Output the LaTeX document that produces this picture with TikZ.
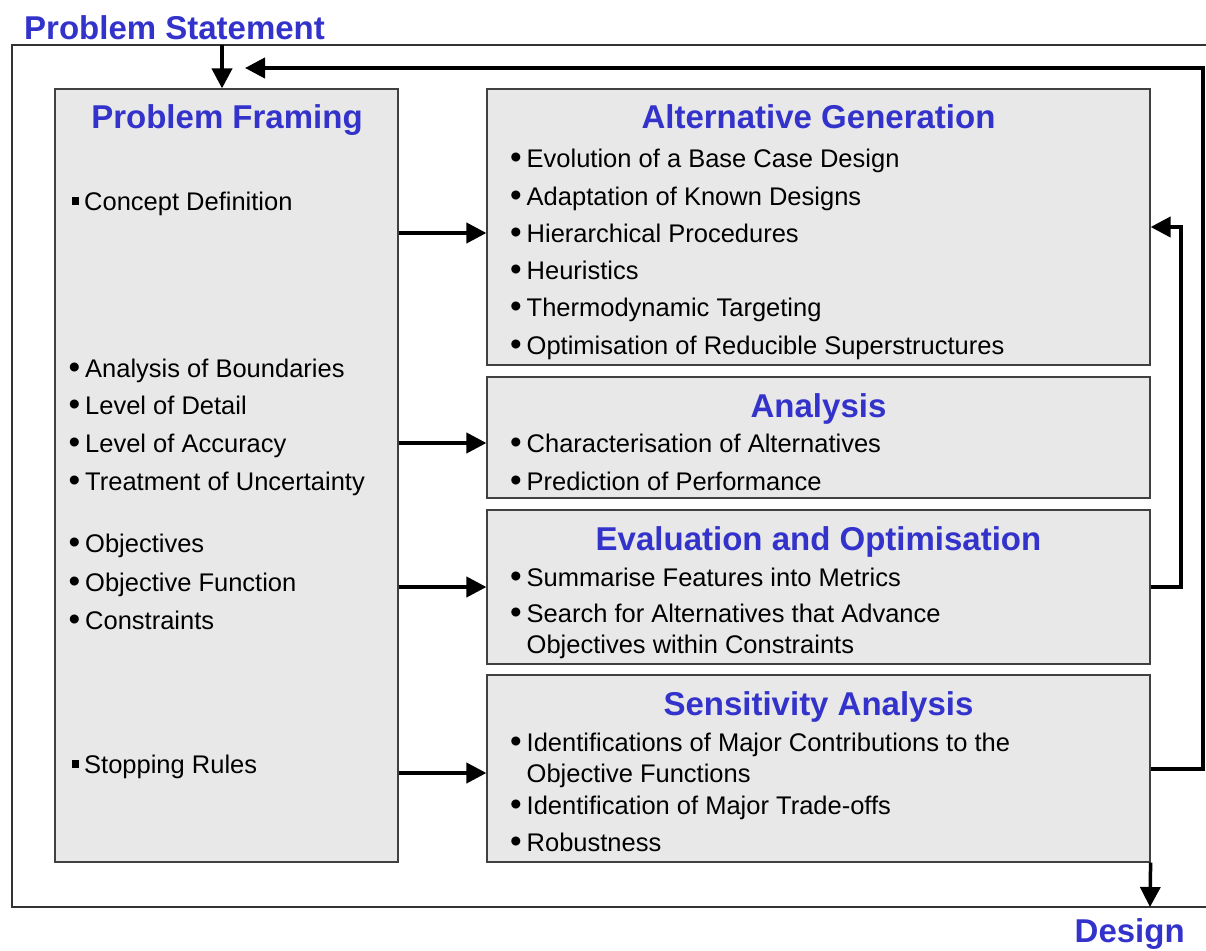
\documentclass[tikz,border=0pt]{standalone}
\usepackage{fontspec}
\usepackage{graphicx}
\setmainfont{Liberation Sans}
\usetikzlibrary{arrows.meta}
\definecolor{headblue}{RGB}{51,51,204}
\newcommand\bul{\makebox[16pt][l]{\hspace{-0.5pt}\raisebox{-1.8pt}{\scalebox{1.3}{•}}}}
\newcommand\sqb{\makebox[12.5pt][l]{\rule[5.5pt]{7.3pt}{7.3pt}}}

\begin{document}
\begin{tikzpicture}
  [x=1pt, y=-1pt, >={Triangle[length=20pt,width=20pt]},
   box/.style={draw=black!75, line width=1.2pt, fill=black!9, inner sep=0pt},
   head/.style={anchor=base, inner sep=0pt, text=headblue, font=\fontsize{33}{38}\selectfont\bfseries},
   item/.style={anchor=base west, inner sep=0pt, font=\fontsize{25.5}{30}\selectfont},
   arr/.style={->, line width=4pt}]
  \useasboundingbox (0,0) rectangle (1206,950);
  % outer frame
  \draw[black!80, line width=1.2pt] (1206,45) -- (12,45) -- (12,907) -- (1206,907);
  \node[head, anchor=base west] (ps) at (24,40) {Problem Statement};
  \node[head, anchor=base west] (dsg) at (1074.5,942) {Design};

  % boxes
  \node[box, minimum width=343pt, minimum height=773pt] (pf) at (226.5,475.5) {};
  \node[box, minimum width=663pt, minimum height=276pt] (ag) at (818.5,227) {};
  \node[box, minimum width=663pt, minimum height=121pt] (an) at (818.5,437.5) {};
  \node[box, minimum width=663pt, minimum height=154pt] (ev) at (818.5,587) {};
  \node[box, minimum width=663pt, minimum height=187pt] (sa) at (818.5,768.5) {};

  % headings
  \node[head] (pfh) at (227,128) {Problem Framing};
  \node[head] (agh) at (818.5,128) {Alternative Generation};
  \node[head] (anh) at (818.5,417) {Analysis};
  \node[head] (evh) at (818.5,550) {Evaluation and Optimisation};
  \node[head] (sah) at (818.5,715) {Sensitivity Analysis};

  % problem framing
  \node[item] (pf1) at (71.5,210) {\sqb Concept Definition};
  \node[item] (pf2) at (69,377) {\bul Analysis of Boundaries};
  \node[item] (pf3) at (69,414) {\bul Level of Detail};
  \node[item] (pf4) at (69,452) {\bul Level of Accuracy};
  \node[item] (pf5) at (69,490) {\bul Treatment of Uncertainty};
  \node[item] (pf6) at (69,552) {\bul Objectives};
  \node[item] (pf7) at (69,591) {\bul Objective Function};
  \node[item] (pf8) at (69,629) {\bul Constraints};
  \node[item] (pf9) at (71.5,773) {\sqb Stopping Rules};

  % alternative generation
  \node[item] (ag1) at (510.5,167) {\bul Evolution of a Base Case Design};
  \node[item] (ag2) at (510.5,205) {\bul Adaptation of Known Designs};
  \node[item] (ag3) at (510.5,242) {\bul Hierarchical Procedures};
  \node[item] (ag4) at (510.5,279) {\bul Heuristics};
  \node[item] (ag5) at (510.5,316) {\bul Thermodynamic Targeting};
  \node[item] (ag6) at (510.5,354) {\bul Optimisation of Reducible Superstructures};

  % analysis
  \node[item] (an1) at (510.5,452) {\bul Characterisation of Alternatives};
  \node[item] (an2) at (510.5,490) {\bul Prediction of Performance};

  % evaluation
  \node[item] (ev1) at (510.5,586) {\bul Summarise Features into Metrics};
  \node[item] (ev2) at (510.5,622) {\bul Search for Alternatives that Advance};
  \node[item] (ev2b) at (526.5,653) {Objectives within Constraints};

  % sensitivity
  \node[item] (sa1) at (510.5,751) {\bul Identifications of Major Contributions to the};
  \node[item] (sa1b) at (526.5,782) {Objective Functions};
  \node[item] (sa2) at (510.5,814) {\bul Identification of Major Trade-offs};
  \node[item] (sa3) at (510.5,851) {\bul Robustness};

  % connectors
  \foreach \to/\y in {ag/233,an/443,ev/587,sa/773}
  \draw[arr] (pf.east |- 0,\y) -- (\to.west |- 0,\y);
  \coordinate (in) at (222,45);
  \coordinate (back) at (245,68);
  \coordinate (out) at (1150,907);
  \draw[arr] (in) -- (in |- pf.north);
  \draw[arr] (sa.east) -- ++(52,0) |- (back);
  \draw[arr] (ev.east) -- ++(30,0) |- (ag.east);
  \draw[arr, line width=3.5pt] (sa.south east) -- (out);
\end{tikzpicture}
\end{document}
